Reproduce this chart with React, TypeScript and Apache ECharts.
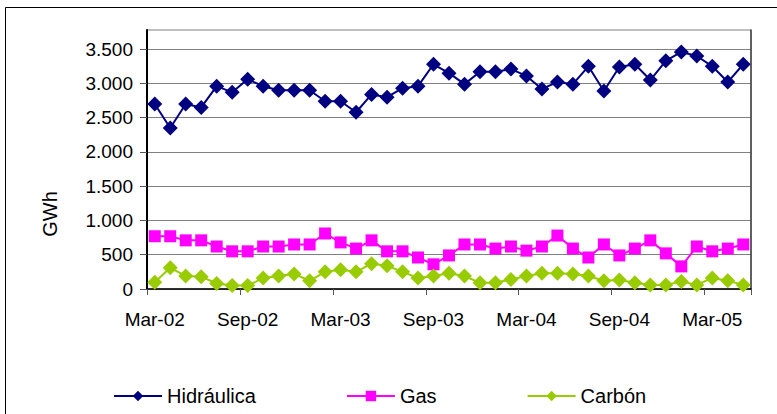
import React, { useEffect, useRef } from "react";
import * as echarts from "echarts";

const months: string[] = [
  "Mar-02", "Abr-02", "May-02", "Jun-02", "Jul-02", "Ago-02", "Sep-02", "Oct-02", "Nov-02", "Dic-02",
  "Ene-03", "Feb-03", "Mar-03", "Abr-03", "May-03", "Jun-03", "Jul-03", "Ago-03", "Sep-03", "Oct-03", "Nov-03", "Dic-03",
  "Ene-04", "Feb-04", "Mar-04", "Abr-04", "May-04", "Jun-04", "Jul-04", "Ago-04", "Sep-04", "Oct-04", "Nov-04", "Dic-04",
  "Ene-05", "Feb-05", "Mar-05", "Abr-05", "May-05",
];

const hidraulica: number[] = [
  2700, 2350, 2700, 2650, 2960, 2870, 3060, 2960, 2900, 2900,
  2900, 2740, 2740, 2580, 2840, 2800, 2930, 2960, 3280, 3150,
  2990, 3170, 3170, 3210, 3110, 2920, 3020, 2990, 3250, 2890,
  3240, 3280, 3050, 3330, 3460, 3400, 3250, 3020, 3280,
];

const gas: number[] = [
  770, 770, 710, 710, 620, 550, 550, 620, 620, 650,
  650, 810, 680, 590, 710, 550, 550, 460, 360, 490,
  650, 650, 590, 620, 560, 620, 780, 590, 460, 650,
  490, 590, 710, 520, 330, 620, 550, 590, 650,
];

const carbon: number[] = [
  100, 310, 190, 180, 80, 50, 50, 160, 190, 220,
  120, 250, 280, 250, 370, 340, 250, 160, 190, 230,
  190, 90, 90, 140, 190, 230, 230, 220, 190, 120,
  130, 90, 60, 60, 110, 60, 160, 120, 60,
];

const yTicks: number[] = [0, 500, 1000, 1500, 2000, 2500, 3000, 3500];

const FONT = "'Liberation Sans', Arial, sans-serif";
const FS = 19;

function fmt(v: number): string {
  if (v >= 1000) {
    const r = v % 1000;
    return Math.floor(v / 1000) + "." + String(r).padStart(3, "0");
  }
  return String(v);
}

export default function App() {
  const ref = useRef<HTMLDivElement>(null);
  useEffect(() => {
    document.body.style.margin = "0";
    const chart = echarts.init(ref.current!, null, { renderer: "svg" });
    chart.setOption({
      animation: false,
      backgroundColor: "#ffffff",
      textStyle: { fontFamily: FONT },
      graphic: [
        {
          type: "rect",
          shape: { x: 5.5, y: 7.5, width: 800, height: 420 },
          style: { fill: "none", stroke: "#000", lineWidth: 1 },
          silent: true,
          z: -1,
        },
        {
          type: "text",
          x: 50,
          y: 214,
          rotation: Math.PI / 2,
          style: {
            text: "GWh",
            fontFamily: FONT,
            fontSize: 20,
            fill: "#000",
            align: "center",
            verticalAlign: "middle",
          },
        },
      ],
      grid: {
        left: 147,
        right: 26,
        top: 30,
        bottom: 125,
        show: true,
        borderColor: "#808080",
        borderWidth: 1,
        containLabel: false,
      },
      legend: {
        left: 108,
        top: 381,
        itemWidth: 48,
        itemHeight: 13,
        itemGap: 90,
        textStyle: { fontFamily: FONT, fontSize: 20, color: "#000" },
        data: ["Hidráulica", "Gas", "Carbón"],
      },
      xAxis: {
        type: "category",
        data: months,
        boundaryGap: true,
        axisLine: { show: true, lineStyle: { color: "#000", width: 1.5 } },
        axisTick: {
          show: true,
          alignWithLabel: false,
          length: 6,
          interval: (i: number) => i % 6 === 0,
          lineStyle: { color: "#555" },
        },
        axisLabel: {
          interval: (i: number) => i % 6 === 0,
          fontFamily: FONT,
          fontSize: FS,
          color: "#000",
          margin: 21,
        },
        splitLine: { show: false },
      },
      yAxis: [
        {
          type: "value",
          min: 0,
          max: 3780,
          interval: 500,
          axisLine: { show: true, lineStyle: { color: "#000", width: 2 } },
          axisTick: { show: true, length: 7, lineStyle: { color: "#555" }, customValues: yTicks },
          axisLabel: {
            fontFamily: FONT,
            fontSize: FS,
            color: "#000",
            margin: 14,
            customValues: yTicks,
            formatter: (v: number) => fmt(v),
          },
          splitLine: { show: true, lineStyle: { color: "#808080", width: 1 } },
        },
        {
          type: "value",
          position: "right",
          min: 0,
          max: 3780,
          axisLine: { show: true, lineStyle: { color: "#404040", width: 1.5 } },
          axisTick: { show: false },
          axisLabel: { show: false },
          splitLine: { show: false },
        },
      ],
      series: [
        {
          name: "Hidráulica",
          type: "line",
          data: hidraulica,
          symbol: "diamond",
          symbolSize: 15,
          showAllSymbol: true,
          itemStyle: { color: "#000080" },
          lineStyle: { color: "#000080", width: 2 },
        },
        {
          name: "Gas",
          type: "line",
          data: gas,
          symbol: "rect",
          symbolSize: 12,
          showAllSymbol: true,
          itemStyle: { color: "#FF00FF" },
          lineStyle: { color: "#FF00FF", width: 2 },
        },
        {
          name: "Carbón",
          type: "line",
          data: carbon,
          symbol: "diamond",
          symbolSize: 15,
          showAllSymbol: true,
          itemStyle: { color: "#99CC00" },
          lineStyle: { color: "#99CC00", width: 2 },
        },
      ],
    });
    return () => chart.dispose();
  }, []);
  return (
    <div
      ref={ref}
      style={{ position: "absolute", left: 0, top: 0, width: 777, height: 414 }}
    />
  );
}
